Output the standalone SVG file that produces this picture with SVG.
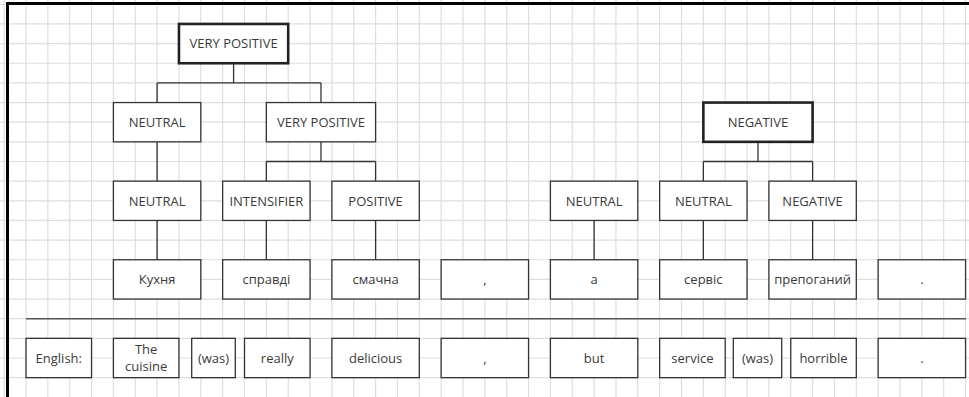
<svg xmlns="http://www.w3.org/2000/svg" width="969" height="397" viewBox="0 0 969 397">
<style>
.grid{stroke:#dedede;stroke-width:1.2;fill:none}
.box{fill:#fff;stroke:#333;stroke-width:1.3}
.root{fill:#fff;stroke:#222;stroke-width:2.6}
.con{stroke:#333;stroke-width:1.3;fill:none}
.frame{stroke:#000;stroke-width:3;fill:none}
text{font-family:"Open Sans","Noto Sans","DejaVu Sans",sans-serif;font-size:13px;fill:#3a3a3a;text-anchor:middle}
</style>
<rect width="969" height="397" fill="#fff"/>
<path class="grid" d="M4.15 0V397M26 0V397M47.85 0V397M69.7 0V397M91.55 0V397M113.4 0V397M135.25 0V397M157.1 0V397M178.95 0V397M200.8 0V397M222.65 0V397M244.5 0V397M266.35 0V397M288.2 0V397M310.05 0V397M331.9 0V397M353.75 0V397M375.6 0V397M397.45 0V397M419.3 0V397M441.15 0V397M463 0V397M484.85 0V397M506.7 0V397M528.55 0V397M550.4 0V397M572.25 0V397M594.1 0V397M615.95 0V397M637.8 0V397M659.65 0V397M681.5 0V397M703.35 0V397M725.2 0V397M747.05 0V397M768.9 0V397M790.75 0V397M812.6 0V397M834.45 0V397M856.3 0V397M878.15 0V397M900 0V397M921.85 0V397M943.7 0V397M965.55 0V397M0 4.3H969M0 23.95H969M0 43.6H969M0 63.25H969M0 82.9H969M0 102.55H969M0 122.2H969M0 141.85H969M0 161.5H969M0 181.15H969M0 200.8H969M0 220.45H969M0 240.1H969M0 259.75H969M0 279.4H969M0 299.05H969M0 318.7H969M0 338.35H969M0 358H969M0 377.65H969"/>
<path class="frame" d="M7.5 397V3.5H969"/>
<g id="connectors">
<path class="con" d="M233.6 63.25V82.9M157.1 82.9H320.98M157.1 82.9V102.55M320.98 82.9V102.55"/>
<path class="con" d="M157.1 141.85V181.15"/>
<path class="con" d="M320.98 141.85V161.5M266.35 161.5H375.6M266.35 161.5V181.15M375.6 161.5V181.15"/>
<path class="con" d="M757.98 141.85V161.5M703.35 161.5H812.6M703.35 161.5V181.15M812.6 161.5V181.15"/>
<path class="con" d="M157.1 220.45V259.75M266.35 220.45V259.75M375.6 220.45V259.75M594.1 220.45V259.75M703.35 220.45V259.75M812.6 220.45V259.75"/>
<path class="con" style="stroke:#555;stroke-width:1.5" d="M26 318.7H966"/>
</g>
<g id="n-root-vp"><rect class="root" x="178.95" y="23.95" width="109.25" height="39.3"/><text x="233.6" y="48.3">VERY POSITIVE</text></g>
<g id="n-neutral-2"><rect class="box" x="113.4" y="102.55" width="87.4" height="39.3"/><text x="157.1" y="126.9">NEUTRAL</text></g>
<g id="n-vp-2"><rect class="box" x="266.35" y="102.55" width="109.25" height="39.3"/><text x="320.98" y="126.9">VERY POSITIVE</text></g>
<g id="n-negative-root"><rect class="root" x="703.35" y="102.55" width="109.25" height="39.3"/><text x="757.98" y="126.9">NEGATIVE</text></g>
<g id="n-neutral-3a"><rect class="box" x="113.4" y="181.15" width="87.4" height="39.3"/><text x="157.1" y="205.5">NEUTRAL</text></g>
<g id="n-intensifier"><rect class="box" x="222.65" y="181.15" width="87.4" height="39.3"/><text x="266.35" y="205.5">INTENSIFIER</text></g>
<g id="n-positive"><rect class="box" x="331.9" y="181.15" width="87.4" height="39.3"/><text x="375.6" y="205.5">POSITIVE</text></g>
<g id="n-neutral-3b"><rect class="box" x="550.4" y="181.15" width="87.4" height="39.3"/><text x="594.1" y="205.5">NEUTRAL</text></g>
<g id="n-neutral-3c"><rect class="box" x="659.65" y="181.15" width="87.4" height="39.3"/><text x="703.35" y="205.5">NEUTRAL</text></g>
<g id="n-negative-3"><rect class="box" x="768.9" y="181.15" width="87.4" height="39.3"/><text x="812.6" y="205.5">NEGATIVE</text></g>
<g id="w-kukhnia"><rect class="box" x="113.4" y="259.75" width="87.4" height="39.3"/><text x="157.1" y="284.1">Кухня</text></g>
<g id="w-spravdi"><rect class="box" x="222.65" y="259.75" width="87.4" height="39.3"/><text x="266.35" y="284.1">справді</text></g>
<g id="w-smachna"><rect class="box" x="331.9" y="259.75" width="87.4" height="39.3"/><text x="375.6" y="284.1">смачна</text></g>
<g id="w-comma"><rect class="box" x="441.15" y="259.75" width="87.4" height="39.3"/><text x="484.85" y="284.1">,</text></g>
<g id="w-a"><rect class="box" x="550.4" y="259.75" width="87.4" height="39.3"/><text x="594.1" y="284.1">а</text></g>
<g id="w-servis"><rect class="box" x="659.65" y="259.75" width="87.4" height="39.3"/><text x="703.35" y="284.1">сервіс</text></g>
<g id="w-prepohanyi"><rect class="box" x="768.9" y="259.75" width="87.4" height="39.3"/><text x="812.6" y="284.1">препоганий</text></g>
<g id="w-period"><rect class="box" x="878.15" y="259.75" width="87.4" height="39.3"/><text x="921.85" y="284.1">.</text></g>
<g id="e-english"><rect class="box" x="26" y="338.35" width="65.55" height="39.3"/><text x="58.78" y="362.7">English:</text></g>
<g id="e-the-cuisine"><rect class="box" x="113.4" y="338.35" width="65.55" height="39.3"/><text x="146.18" y="354">The</text><text x="146.18" y="370.7">cuisine</text></g>
<g id="e-was-1"><rect class="box" x="191.7" y="338.35" width="43.6" height="39.3"/><text x="213.5" y="362.7">(was)</text></g>
<g id="e-really"><rect class="box" x="244.5" y="338.35" width="65.55" height="39.3"/><text x="277.28" y="362.7">really</text></g>
<g id="e-delicious"><rect class="box" x="331.9" y="338.35" width="87.4" height="39.3"/><text x="375.6" y="362.7">delicious</text></g>
<g id="e-comma"><rect class="box" x="441.15" y="338.35" width="87.4" height="39.3"/><text x="484.85" y="362.7">,</text></g>
<g id="e-but"><rect class="box" x="550.4" y="338.35" width="87.4" height="39.3"/><text x="594.1" y="362.7">but</text></g>
<g id="e-service"><rect class="box" x="659.65" y="338.35" width="65.55" height="39.3"/><text x="692.43" y="362.7">service</text></g>
<g id="e-was-2"><rect class="box" x="733.3" y="338.35" width="48.4" height="39.3"/><text x="757.5" y="362.7">(was)</text></g>
<g id="e-horrible"><rect class="box" x="790.75" y="338.35" width="65.55" height="39.3"/><text x="823.53" y="362.7">horrible</text></g>
<g id="e-period"><rect class="box" x="878.15" y="338.35" width="87.4" height="39.3"/><text x="921.85" y="362.7">.</text></g>
</svg>
